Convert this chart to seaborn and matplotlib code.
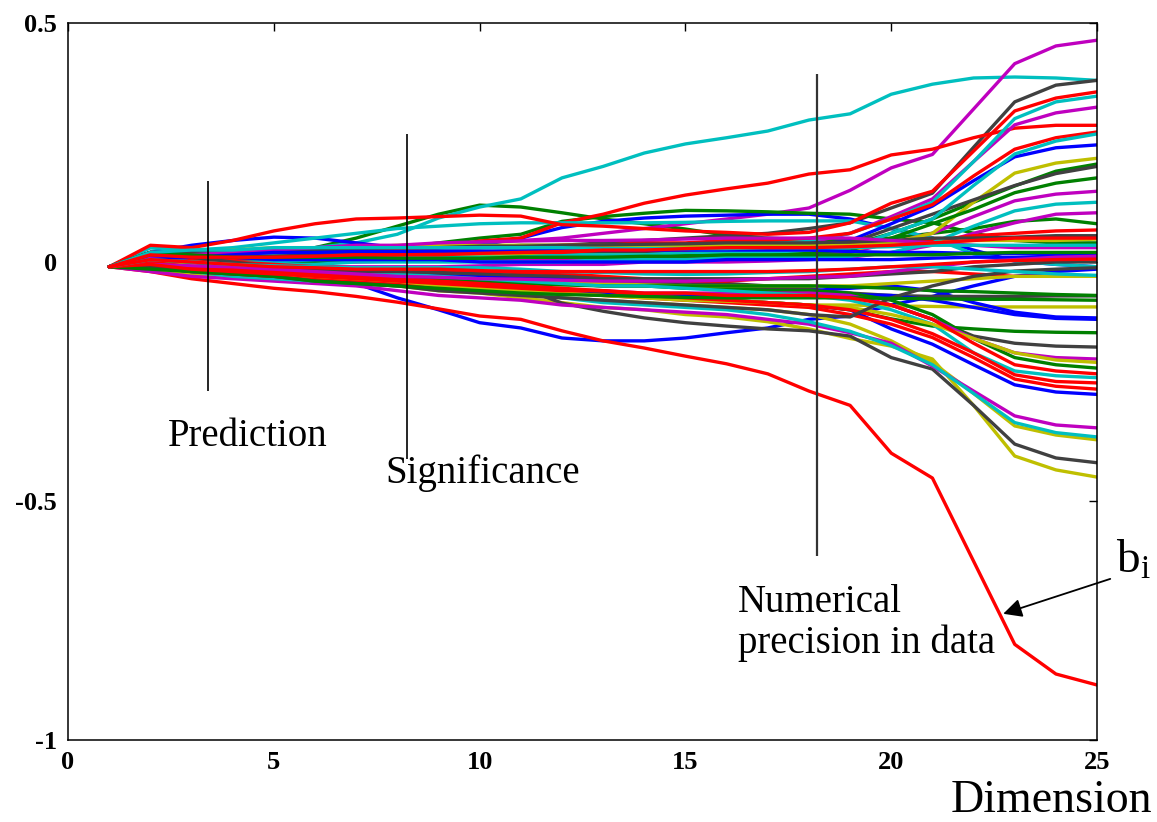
import numpy as np
import pandas as pd
import matplotlib
matplotlib.use("Agg")
import matplotlib.pyplot as plt
import seaborn as sns

dims = list(range(1, 26))

# coefficient traces b_i per dimension, grouped by line colour
red_lines = [
    [-0.01,-0.02,-0.035,-0.045,-0.055,-0.062,-0.072,-0.084,-0.098,-0.113,-0.12,-0.144,-0.165,-0.18,-0.197,-0.213,-0.234,-0.27,-0.30,-0.40,-0.452,-0.626,-0.80,-0.862,-0.885],
    [-0.01,0.02,0.01,0.01,0.015,0.02,0.02,0.025,0.03,0.044,0.05,0.082,0.10,0.123,0.14,0.153,0.165,0.184,0.193,0.224,0.236,0.26,0.28,0.286,0.286],
    [-0.01,0.035,0.03,0.045,0.065,0.08,0.09,0.092,0.095,0.098,0.096,0.078,0.075,0.07,0.065,0.062,0.058,0.062,0.082,0.123,0.148,0.232,0.316,0.343,0.356],
    [-0.01,0.02,0.02,0.02,0.02,0.02,0.025,0.025,0.03,0.03,0.03,0.035,0.035,0.04,0.04,0.045,0.045,0.05,0.06,0.09,0.12,0.18,0.236,0.26,0.272],
    [-0.01,0.0,0.0,0.005,0.01,0.01,0.015,0.015,0.02,0.02,0.02,0.02,0.025,0.025,0.025,0.03,0.03,0.03,0.035,0.04,0.045,0.055,0.06,0.065,0.067],
    [-0.01,0.01,0.005,0.0,-0.005,-0.01,-0.012,-0.015,-0.018,-0.02,-0.022,-0.025,-0.03,-0.035,-0.04,-0.04,-0.035,-0.03,-0.025,-0.02,-0.02,-0.025,-0.03,-0.03,-0.03],
    [-0.01,-0.01,-0.02,-0.025,-0.03,-0.035,-0.04,-0.045,-0.05,-0.055,-0.06,-0.065,-0.07,-0.075,-0.08,-0.085,-0.09,-0.095,-0.11,-0.13,-0.158,-0.20,-0.245,-0.26,-0.266],
    [-0.01,0.0,-0.01,-0.015,-0.02,-0.025,-0.03,-0.035,-0.04,-0.045,-0.05,-0.055,-0.06,-0.07,-0.075,-0.08,-0.085,-0.09,-0.10,-0.12,-0.15,-0.19,-0.236,-0.25,-0.253],
    [-0.01,-0.005,-0.015,-0.02,-0.025,-0.03,-0.035,-0.04,-0.045,-0.05,-0.055,-0.06,-0.06,-0.065,-0.065,-0.07,-0.07,-0.07,-0.075,-0.09,-0.12,-0.17,-0.215,-0.228,-0.234],
    [-0.01,0.015,0.01,0.01,0.01,0.012,0.015,0.015,0.015,0.018,0.02,0.022,0.025,0.025,0.028,0.03,0.03,0.03,0.032,0.035,0.04,0.045,0.05,0.05,0.05],
    [-0.01,0.005,0.0,-0.005,-0.01,-0.012,-0.015,-0.015,-0.015,-0.018,-0.02,-0.02,-0.02,-0.02,-0.02,-0.02,-0.02,-0.018,-0.015,-0.01,-0.005,0.0,0.003,0.005,0.006],
]
green_lines = [
    [-0.01,0.01,0.01,0.012,0.02,0.03,0.05,0.075,0.10,0.119,0.115,0.103,0.09,0.08,0.069,0.056,0.05,0.046,0.046,0.05,0.06,0.07,0.085,0.09,0.08],
    [-0.01,0.005,0.005,0.01,0.015,0.02,0.025,0.03,0.04,0.05,0.058,0.085,0.095,0.102,0.108,0.107,0.105,0.102,0.10,0.09,0.082,0.06,0.045,0.04,0.04],
    [-0.01,0.0,0.0,0.005,0.005,0.01,0.01,0.01,0.012,0.015,0.015,0.018,0.02,0.02,0.022,0.025,0.025,0.03,0.035,0.06,0.09,0.125,0.159,0.19,0.205],
    [-0.01,0.01,0.005,0.0,0.0,0.0,0.002,0.005,0.005,0.008,0.01,0.01,0.012,0.012,0.015,0.015,0.018,0.02,0.025,0.05,0.08,0.11,0.145,0.165,0.176],
    [-0.01,-0.01,-0.015,-0.02,-0.025,-0.03,-0.035,-0.04,-0.045,-0.05,-0.055,-0.06,-0.065,-0.07,-0.075,-0.08,-0.085,-0.09,-0.10,-0.119,-0.134,-0.14,-0.145,-0.147,-0.148],
    [-0.01,-0.005,-0.01,-0.01,-0.015,-0.02,-0.025,-0.03,-0.035,-0.04,-0.045,-0.045,-0.05,-0.05,-0.055,-0.055,-0.06,-0.06,-0.065,-0.08,-0.11,-0.16,-0.20,-0.215,-0.222],
    [-0.01,0.005,0.0,-0.01,-0.015,-0.02,-0.025,-0.03,-0.035,-0.04,-0.045,-0.048,-0.05,-0.05,-0.05,-0.05,-0.05,-0.05,-0.052,-0.055,-0.06,-0.062,-0.065,-0.068,-0.07],
    [-0.01,0.02,0.015,0.01,0.01,0.01,0.01,0.008,0.008,0.008,0.01,0.01,0.01,0.012,0.012,0.015,0.015,0.015,0.015,0.015,0.015,0.018,0.02,0.02,0.02],
    [-0.01,-0.015,-0.02,-0.025,-0.03,-0.04,-0.045,-0.05,-0.055,-0.06,-0.065,-0.068,-0.07,-0.072,-0.074,-0.075,-0.075,-0.075,-0.075,-0.076,-0.077,-0.078,-0.078,-0.079,-0.08],
]
blue_lines = [
    [-0.01,0.02,0.0,-0.01,-0.02,-0.03,-0.045,-0.075,-0.10,-0.127,-0.138,-0.159,-0.165,-0.165,-0.159,-0.148,-0.138,-0.12,-0.113,-0.09,-0.072,-0.05,-0.03,-0.02,-0.015],
    [-0.01,0.02,0.035,0.045,0.052,0.05,0.04,0.03,0.03,0.035,0.05,0.072,0.085,0.092,0.096,0.098,0.10,0.10,0.09,0.07,0.05,0.025,0.002,-0.005,-0.01],
    [-0.01,0.0,0.0,0.0,0.005,0.01,0.01,0.01,0.015,0.015,0.02,0.02,0.02,0.025,0.025,0.03,0.03,0.035,0.045,0.08,0.117,0.17,0.22,0.239,0.245],
    [-0.01,-0.01,-0.015,-0.02,-0.025,-0.03,-0.035,-0.04,-0.045,-0.05,-0.055,-0.06,-0.065,-0.07,-0.075,-0.08,-0.085,-0.09,-0.10,-0.14,-0.172,-0.215,-0.257,-0.272,-0.277],
    [-0.01,0.0,-0.01,-0.015,-0.02,-0.02,-0.025,-0.025,-0.03,-0.03,-0.035,-0.035,-0.04,-0.045,-0.05,-0.055,-0.06,-0.06,-0.055,-0.05,-0.06,-0.085,-0.105,-0.115,-0.117],
    [-0.01,-0.01,-0.02,-0.025,-0.03,-0.035,-0.04,-0.045,-0.05,-0.055,-0.06,-0.065,-0.068,-0.07,-0.07,-0.07,-0.07,-0.07,-0.068,-0.07,-0.08,-0.095,-0.11,-0.118,-0.12],
    [-0.01,0.01,0.01,0.01,0.005,0.005,0.005,0.005,0.005,0.0,0.0,0.0,0.0,0.0,0.0,0.005,0.005,0.005,0.005,0.005,0.008,0.01,0.01,0.012,0.012],
    [-0.01,0.005,0.01,0.015,0.02,0.02,0.022,0.022,0.023,0.023,0.023,0.025,0.025,0.025,0.025,0.025,0.025,0.025,0.022,0.02,0.02,0.018,0.018,0.018,0.018],
]
cyan_lines = [
    [-0.01,0.03,0.02,0.02,0.025,0.03,0.04,0.058,0.092,0.115,0.132,0.176,0.20,0.228,0.247,0.26,0.274,0.297,0.31,0.351,0.372,0.385,0.387,0.385,0.38],
    [-0.01,0.03,0.025,0.03,0.04,0.05,0.06,0.07,0.075,0.08,0.082,0.082,0.082,0.082,0.083,0.085,0.086,0.086,0.086,0.07,0.05,0.017,0.002,-0.005,-0.01],
    [-0.01,0.02,0.015,0.015,0.015,0.015,0.015,0.02,0.02,0.02,0.025,0.025,0.03,0.03,0.035,0.035,0.04,0.045,0.06,0.09,0.125,0.21,0.30,0.335,0.347],
    [-0.01,0.0,0.0,0.0,0.0,0.005,0.005,0.01,0.01,0.01,0.01,0.015,0.015,0.015,0.02,0.02,0.02,0.025,0.03,0.06,0.09,0.16,0.226,0.253,0.268],
    [-0.01,0.0,-0.005,-0.005,-0.005,-0.005,0.0,0.0,0.0,0.0,0.0,0.0,0.005,0.005,0.005,0.01,0.01,0.01,0.012,0.02,0.04,0.075,0.107,0.121,0.125],
    [-0.01,-0.01,-0.02,-0.03,-0.035,-0.04,-0.045,-0.05,-0.055,-0.06,-0.065,-0.075,-0.085,-0.09,-0.095,-0.10,-0.11,-0.125,-0.145,-0.175,-0.215,-0.275,-0.336,-0.357,-0.366],
    [-0.01,0.01,0.0,-0.005,-0.01,-0.015,-0.02,-0.025,-0.03,-0.035,-0.04,-0.045,-0.05,-0.05,-0.055,-0.06,-0.065,-0.07,-0.08,-0.10,-0.13,-0.19,-0.228,-0.238,-0.242],
    [-0.01,0.02,0.025,0.025,0.03,0.03,0.03,0.03,0.03,0.03,0.03,0.03,0.028,0.028,0.028,0.028,0.03,0.03,0.03,0.032,0.035,0.035,0.035,0.035,0.035],
    [-0.01,0.005,0.0,-0.005,-0.008,-0.01,-0.012,-0.012,-0.012,-0.012,-0.015,-0.02,-0.022,-0.025,-0.026,-0.025,-0.022,-0.02,-0.015,-0.01,-0.01,-0.015,-0.02,-0.025,-0.028],
]
magenta_lines = [
    [-0.01,0.0,0.01,0.02,0.025,0.03,0.03,0.03,0.035,0.04,0.045,0.05,0.06,0.07,0.08,0.09,0.10,0.113,0.15,0.197,0.225,0.32,0.415,0.452,0.464],
    [-0.01,0.01,0.005,0.005,0.008,0.01,0.012,0.015,0.015,0.018,0.02,0.02,0.025,0.025,0.03,0.03,0.035,0.04,0.06,0.095,0.132,0.21,0.287,0.312,0.324],
    [-0.01,0.0,0.0,0.0,0.0,0.0,0.0,0.002,0.002,0.004,0.005,0.005,0.005,0.008,0.01,0.01,0.012,0.015,0.02,0.04,0.06,0.095,0.128,0.142,0.148],
    [-0.01,-0.005,-0.005,-0.01,-0.01,-0.01,-0.01,-0.01,-0.01,-0.008,-0.005,-0.005,-0.005,0.0,0.0,0.0,0.002,0.005,0.01,0.02,0.035,0.06,0.082,0.10,0.103],
    [-0.01,-0.02,-0.03,-0.035,-0.04,-0.045,-0.05,-0.06,-0.07,-0.075,-0.08,-0.09,-0.095,-0.10,-0.105,-0.11,-0.12,-0.13,-0.148,-0.17,-0.218,-0.27,-0.322,-0.341,-0.347],
    [-0.01,-0.01,-0.015,-0.02,-0.025,-0.03,-0.035,-0.04,-0.045,-0.05,-0.055,-0.058,-0.06,-0.065,-0.065,-0.065,-0.065,-0.065,-0.07,-0.09,-0.12,-0.16,-0.19,-0.2,-0.203],
    [-0.01,0.01,0.015,0.02,0.025,0.03,0.035,0.035,0.04,0.042,0.044,0.045,0.045,0.046,0.048,0.05,0.05,0.05,0.05,0.045,0.04,0.035,0.03,0.03,0.03],
    [-0.01,-0.005,-0.008,-0.01,-0.015,-0.02,-0.025,-0.03,-0.032,-0.035,-0.036,-0.038,-0.04,-0.04,-0.04,-0.038,-0.035,-0.032,-0.03,-0.02,-0.01,0.0,0.005,0.01,0.012],
]
yellow_lines = [
    [-0.01,-0.015,-0.025,-0.03,-0.035,-0.04,-0.045,-0.05,-0.06,-0.065,-0.075,-0.085,-0.095,-0.10,-0.11,-0.115,-0.125,-0.14,-0.16,-0.176,-0.203,-0.30,-0.406,-0.435,-0.45],
    [-0.01,-0.01,-0.02,-0.025,-0.03,-0.035,-0.04,-0.045,-0.055,-0.06,-0.07,-0.075,-0.08,-0.085,-0.09,-0.095,-0.10,-0.11,-0.13,-0.165,-0.21,-0.275,-0.343,-0.362,-0.372],
    [-0.01,0.0,0.005,0.01,0.01,0.01,0.012,0.012,0.015,0.015,0.015,0.015,0.018,0.018,0.02,0.02,0.02,0.022,0.025,0.04,0.06,0.125,0.186,0.207,0.217],
    [-0.01,0.0,-0.01,-0.02,-0.025,-0.03,-0.035,-0.04,-0.045,-0.05,-0.055,-0.06,-0.065,-0.07,-0.075,-0.08,-0.085,-0.09,-0.09,-0.092,-0.093,-0.094,-0.094,-0.094,-0.094],
    [-0.01,0.01,0.02,0.025,0.03,0.03,0.03,0.035,0.035,0.035,0.035,0.035,0.035,0.035,0.035,0.035,0.035,0.035,0.035,0.04,0.04,0.045,0.045,0.045,0.048],
    [-0.01,0.005,-0.005,-0.01,-0.015,-0.02,-0.025,-0.03,-0.033,-0.036,-0.04,-0.042,-0.045,-0.048,-0.05,-0.05,-0.05,-0.05,-0.05,-0.045,-0.04,-0.035,-0.03,-0.03,-0.03],
    [-0.01,-0.01,-0.015,-0.02,-0.025,-0.03,-0.035,-0.04,-0.05,-0.055,-0.06,-0.065,-0.07,-0.075,-0.08,-0.082,-0.085,-0.09,-0.095,-0.11,-0.13,-0.16,-0.19,-0.205,-0.21],
]
gray_lines = [
    [-0.01,0.02,0.015,0.015,0.02,0.02,0.025,0.025,0.03,0.03,0.035,0.035,0.04,0.045,0.05,0.055,0.06,0.07,0.082,0.113,0.144,0.24,0.335,0.37,0.38],
    [-0.01,0.005,0.0,-0.005,-0.01,-0.012,-0.015,-0.018,-0.023,-0.046,-0.054,-0.086,-0.103,-0.117,-0.127,-0.134,-0.14,-0.144,-0.155,-0.20,-0.224,-0.30,-0.381,-0.41,-0.42],
    [-0.01,0.01,0.01,0.01,0.012,0.015,0.015,0.02,0.02,0.02,0.02,0.02,0.022,0.022,0.022,0.025,0.025,0.028,0.04,0.07,0.1,0.13,0.16,0.185,0.2],
    [-0.01,0.0,-0.005,-0.01,-0.015,-0.02,-0.022,-0.025,-0.028,-0.03,-0.032,-0.035,-0.038,-0.04,-0.042,-0.045,-0.05,-0.055,-0.07,-0.09,-0.12,-0.155,-0.17,-0.176,-0.178],
    [-0.01,-0.005,-0.01,-0.015,-0.02,-0.025,-0.028,-0.03,-0.033,-0.035,-0.038,-0.04,-0.042,-0.045,-0.048,-0.05,-0.055,-0.06,-0.065,-0.07,-0.072,-0.072,-0.072,-0.071,-0.071],
    [-0.01,0.02,0.02,0.02,0.025,0.025,0.028,0.03,0.03,0.033,0.033,0.035,0.036,0.037,0.038,0.04,0.04,0.04,0.042,0.045,0.05,0.05,0.052,0.055,0.055],
    [-0.01,0.015,0.01,0.0,-0.01,-0.015,-0.02,-0.02,-0.022,-0.025,-0.028,-0.03,-0.035,-0.035,-0.035,-0.035,-0.035,-0.035,-0.03,-0.025,-0.02,-0.01,-0.005,0.0,0.0],
    [-0.01,-0.01,-0.02,-0.025,-0.03,-0.04,-0.045,-0.05,-0.06,-0.065,-0.07,-0.075,-0.08,-0.085,-0.09,-0.095,-0.10,-0.11,-0.115,-0.075,-0.05,-0.03,-0.019,-0.015,-0.012],
]

groups = [
    (blue_lines, "#0000ff"),
    (green_lines, "#008000"),
    (red_lines, "#ff0000"),
    (cyan_lines, "#00bfbf"),
    (magenta_lines, "#bf00bf"),
    (yellow_lines, "#bfbf00"),
    (gray_lines, "#404040"),
]

# interleave the colours like a matlab colour cycle
rows = []
palette = {}
k = 0
for i in range(max(len(g) for g, _ in groups)):
    for g, col in groups:
        if i < len(g):
            name = f"b{k}"
            palette[name] = col
            for d, v in zip(dims, g[i]):
                rows.append((name, d, v))
            k += 1
df = pd.DataFrame(rows, columns=["coef", "dim", "value"])

sns.set_theme(style="white")
plt.rcParams["font.family"] = ["Liberation Serif", "DejaVu Serif"]
plt.rcParams["mathtext.fontset"] = "custom"
plt.rcParams["mathtext.rm"] = "Liberation Serif"
plt.rcParams["mathtext.it"] = "Liberation Serif"
plt.rcParams["text.color"] = "black"
plt.rcParams["xtick.color"] = "black"
plt.rcParams["ytick.color"] = "black"
plt.rcParams["axes.labelcolor"] = "black"

fig = plt.figure(figsize=(11.57, 8.22), dpi=100)
ax = fig.add_axes([0.0588, 0.0998, 0.8894, 0.8722])

sns.lineplot(data=df, x="dim", y="value", hue="coef", palette=palette,
             estimator=None, sort=False, legend=False, linewidth=2.4, ax=ax)

ax.set_xlim(0, 25)
ax.set_ylim(-1, 0.5)
ax.set_xticks([0, 5, 10, 15, 20, 25])
ax.set_yticks([-1, -0.5, 0, 0.5])
ax.set_xticklabels(["0", "5", "10", "15", "20", "25"])
ax.set_yticklabels(["-1", "-0.5", "0", "0.5"])
ax.set_xlabel("")
ax.set_ylabel("")
ax.tick_params(direction="in", length=6, width=1, top=True, right=True,
               labelsize=19, pad=8)
for lab in ax.get_xticklabels() + ax.get_yticklabels():
    lab.set_fontweight("bold")
for sp in ax.spines.values():
    sp.set_color("black")
    sp.set_linewidth(1.1)

# stage markers
ax.vlines(3.4, -0.27, 0.17, color="black", linewidth=1.2)
ax.vlines(8.24, -0.412, 0.268, color="black", linewidth=1.2)
ax.vlines(18.2, -0.615, 0.393, color="#333333", linewidth=1.6)

ax.text(2.43, -0.366, "Prediction", fontsize=28, va="center", ha="left")
ax.text(7.7, -0.441, "Significance", fontsize=28, va="center", ha="left")
ax.text(16.28, -0.755, "Numerical\nprecision in data", fontsize=28,
        va="center", ha="left", linespacing=1.12)

ax.annotate("", xy=(22.72, -0.736), xytext=(25.32, -0.663),
            arrowprops=dict(arrowstyle="-|>", color="black", lw=1.3,
                            mutation_scale=28, shrinkA=0, shrinkB=0),
            annotation_clip=False)
ax.text(25.45, -0.625, r"b$_\mathrm{i}$", fontsize=34, va="center",
        ha="left", clip_on=False)

fig.text(0.996, 0.026, "Dimension", fontsize=33, ha="right", va="center")

fig.savefig("out.png", dpi=100)
